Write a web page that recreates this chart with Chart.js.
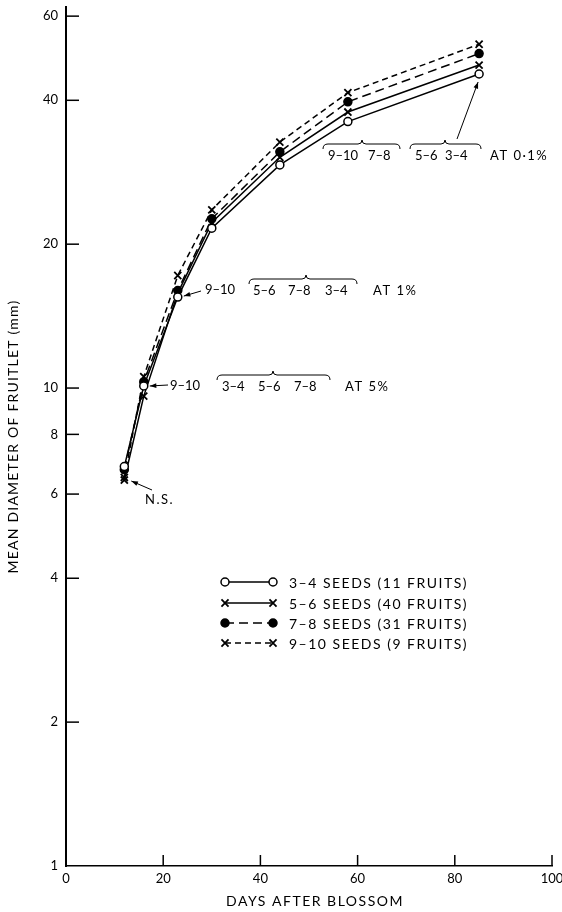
<!DOCTYPE html>
<html lang="en">
<head>
  <meta charset="UTF-8" />
  <title>Fruitlet growth by seed number</title>
  <script src="https://cdn.jsdelivr.net/npm/chart.js"></script>
  <style>
    body { margin: 0; background: #fff; }
    canvas { display: block; }
  </style>
</head>
<body>
  <canvas id="growthChart" width="562" height="912"></canvas>

  <script>
    // days after blossom at which the fruitlets were measured
    const days = [12, 16, 23, 30, 44, 58, 85];

    // mean diameter (mm) for each seed class
    const seeds34 = [6.85, 10.1, 15.5, 21.6, 29.3, 36.1, 45.4];
    const seeds56 = [6.42, 9.62, 15.8, 22.2, 30.4, 37.8, 47.4];
    const seeds78 = [6.75, 10.3, 16.0, 22.6, 31.2, 39.7, 50.1];
    const seeds910 = [6.5, 10.56, 17.2, 23.6, 32.7, 41.5, 52.4];

    const seriesLabels = [
      '3–4 SEEDS (11 FRUITS)',
      '5–6 SEEDS (40 FRUITS)',
      '7–8 SEEDS (31 FRUITS)',
      '9–10 SEEDS (9 FRUITS)'
    ];

    const yTicks = [1, 2, 4, 6, 8, 10, 20, 40, 60];
    const xTicks = [0, 20, 40, 60, 80, 100];

    const FONT = 'Lato, "DejaVu Sans", sans-serif';

    const toPoints = vals => days.map((d, i) => ({ x: d, y: vals[i] }));

    function arrow(ctx, x1, y1, x2, y2) {
      const a = Math.atan2(y2 - y1, x2 - x1);
      ctx.beginPath();
      ctx.moveTo(x1, y1);
      ctx.lineTo(x2, y2);
      ctx.stroke();
      ctx.beginPath();
      ctx.moveTo(x2, y2);
      ctx.lineTo(x2 - 7 * Math.cos(a - 0.35), y2 - 7 * Math.sin(a - 0.35));
      ctx.lineTo(x2 - 7 * Math.cos(a + 0.35), y2 - 7 * Math.sin(a + 0.35));
      ctx.closePath();
      ctx.fill();
    }

    // curly brace lying over a group of labels, peak pointing up
    function brace(ctx, x1, x2, y, peak) {
      ctx.beginPath();
      ctx.moveTo(x1, y + 5);
      ctx.quadraticCurveTo(x1, y, x1 + 5, y);
      ctx.lineTo(peak - 4, y);
      ctx.quadraticCurveTo(peak, y, peak, y - 4);
      ctx.quadraticCurveTo(peak, y, peak + 4, y);
      ctx.lineTo(x2 - 5, y);
      ctx.quadraticCurveTo(x2, y, x2, y + 5);
      ctx.stroke();
    }

    // tick marks point inwards from the axes; axis titles are spaced out
    const axisDecor = {
      id: 'axisDecor',
      afterDraw(chart) {
        const { ctx, chartArea, scales } = chart;
        ctx.save();
        ctx.strokeStyle = '#000';
        ctx.lineWidth = 1.5;
        yTicks.slice(1).forEach(v => {
          const y = scales.y.getPixelForValue(v);
          ctx.beginPath();
          ctx.moveTo(chartArea.left, y);
          ctx.lineTo(chartArea.left + 13, y);
          ctx.stroke();
        });
        xTicks.slice(1).forEach(v => {
          const x = scales.x.getPixelForValue(v);
          ctx.beginPath();
          ctx.moveTo(x, chartArea.bottom);
          ctx.lineTo(x, chartArea.bottom - 11);
          ctx.stroke();
        });

        ctx.fillStyle = '#000';
        ctx.font = '14px ' + FONT;
        ctx.textAlign = 'center';
        ctx.textBaseline = 'middle';
        ctx.letterSpacing = '1.5px';
        ctx.fillText('DAYS AFTER BLOSSOM', (chartArea.left + chartArea.right) / 2 + 6, 901);

        ctx.letterSpacing = '1.2px';
        ctx.translate(13, (chartArea.top + chartArea.bottom) / 2);
        ctx.rotate(-Math.PI / 2);
        ctx.fillText('MEAN DIAMETER OF FRUITLET (mm)', 0, 0);
        ctx.restore();
      }
    };

    // significance notes and their arrows
    const notes = {
      id: 'notes',
      afterDraw(chart) {
        const { ctx, scales } = chart;
        const px = (d, v) => [scales.x.getPixelForValue(d), scales.y.getPixelForValue(v)];
        ctx.save();
        ctx.fillStyle = '#000';
        ctx.strokeStyle = '#000';
        ctx.lineWidth = 1;
        ctx.font = '13px ' + FONT;
        ctx.textBaseline = 'middle';
        ctx.textAlign = 'left';
        const caps = (t, x, y) => {
          ctx.letterSpacing = '1.5px';
          ctx.fillText(t, x, y);
          ctx.letterSpacing = '0px';
        };

        // not significant at the first reading
        let [tx, ty] = px(days[0], seeds56[0]);
        arrow(ctx, 152, 490, tx + 7, ty + 1);
        caps('N.S.', 145, 500);

        // 5 % row
        [tx, ty] = px(days[1], seeds34[1]);
        arrow(ctx, 168, 385, tx + 6, ty);
        ctx.fillText('9–10', 170, 386);
        ctx.fillText('3–4', 222, 387);
        ctx.fillText('5–6', 258, 387);
        ctx.fillText('7–8', 294, 387);
        brace(ctx, 217, 330, 375, 273);
        caps('AT 5%', 345, 387);

        // 1 % row
        [tx, ty] = px(days[2], seeds34[2]);
        arrow(ctx, 201, 291, tx + 6, ty - 1);
        ctx.fillText('9–10', 205, 290);
        ctx.fillText('5–6', 253, 291);
        ctx.fillText('7–8', 288, 291);
        ctx.fillText('3–4', 325, 291);
        brace(ctx, 249, 357, 279, 306);
        caps('AT 1%', 373, 291);

        // 0.1 % row
        [tx, ty] = px(days[6], seeds34[6]);
        arrow(ctx, 457, 139, tx - 1, ty + 8);
        ctx.fillText('9–10', 328, 156);
        ctx.fillText('7–8', 368, 156);
        brace(ctx, 323, 400, 144, 362);
        ctx.fillText('5–6', 415, 156);
        ctx.fillText('3–4', 445, 156);
        brace(ctx, 410, 481, 144, 445);
        caps('AT 0·1%', 490, 156);
        ctx.restore();
      }
    };

    // key drawn inside the plot area, using each dataset's own styling
    const key = {
      id: 'key',
      afterDraw(chart) {
        const { ctx } = chart;
        const rows = [582, 603, 623, 643];
        ctx.save();
        chart.data.datasets.forEach((ds, i) => {
          const y = rows[i];
          ctx.strokeStyle = '#000';
          ctx.lineWidth = ds.borderWidth;
          ctx.setLineDash(ds.borderDash || []);
          ctx.beginPath();
          ctx.moveTo(225, y);
          ctx.lineTo(273, y);
          ctx.stroke();
          ctx.setLineDash([]);
          [225, 273].forEach(x => {
            ctx.fillStyle = ds.pointBackgroundColor;
            ctx.strokeStyle = '#000';
            ctx.lineWidth = ds.pointBorderWidth;
            Chart.helpers.drawPoint(ctx, {
              pointStyle: ds.pointStyle,
              radius: ds.pointRadius,
              borderWidth: ds.pointBorderWidth,
              rotation: 0
            }, x, y);
          });
          ctx.fillStyle = '#000';
          ctx.font = '14px ' + FONT;
          ctx.letterSpacing = '1.5px';
          ctx.textBaseline = 'middle';
          ctx.fillText(seriesLabels[i], 289, y + 1);
          ctx.letterSpacing = '0px';
        });
        ctx.restore();
      }
    };

    const lineSet = (label, vals, extra) => Object.assign({
      label: label,
      data: toPoints(vals),
      showLine: true,
      borderColor: '#000',
      borderWidth: 1.5,
      pointBorderColor: '#000',
      pointBorderWidth: 1.5
    }, extra);

    new Chart(document.getElementById('growthChart'), {
      type: 'scatter',
      data: {
        datasets: [
          lineSet(seriesLabels[0], seeds34, { pointStyle: 'circle', pointRadius: 4, pointBackgroundColor: '#fff' }),
          lineSet(seriesLabels[1], seeds56, { pointStyle: 'crossRot', pointRadius: 5, pointBackgroundColor: '#000', pointBorderWidth: 1.8 }),
          lineSet(seriesLabels[2], seeds78, { pointStyle: 'circle', pointRadius: 4, pointBackgroundColor: '#000', borderDash: [9, 5] }),
          lineSet(seriesLabels[3], seeds910, { pointStyle: 'crossRot', pointRadius: 5, pointBackgroundColor: '#000', pointBorderWidth: 1.8, borderDash: [6, 4] })
        ]
      },
      options: {
        responsive: false,
        animation: false,
        devicePixelRatio: 1,
        layout: { padding: 0 },
        plugins: {
          legend: { display: false },
          tooltip: { enabled: false }
        },
        scales: {
          x: {
            type: 'linear',
            min: 0,
            max: 100,
            afterBuildTicks: s => { s.ticks = xTicks.map(v => ({ value: v })); },
            afterFit: s => {
              s.height = 46;
              s.paddingLeft = 0;
              s.paddingRight = 10;
            },
            grid: { display: false, drawTicks: false },
            border: { display: true, color: '#000', width: 1.5 },
            ticks: { color: '#000', padding: 5, font: { family: FONT, size: 13 }, autoSkip: false, maxRotation: 0 }
          },
          y: {
            type: 'logarithmic',
            min: 1,
            max: 62.7,
            afterBuildTicks: s => { s.ticks = yTicks.map(v => ({ value: v })); },
            afterFit: s => {
              s.width = 66;
              s.paddingTop = 7;
              s.paddingBottom = 0;
            },
            grid: { display: false, drawTicks: false },
            border: { display: true, color: '#000', width: 2 },
            ticks: { color: '#000', padding: 8, font: { family: FONT, size: 13 }, autoSkip: false, callback: v => String(v) }
          }
        }
      },
      plugins: [axisDecor, notes, key]
    });
  </script>
</body>
</html>
